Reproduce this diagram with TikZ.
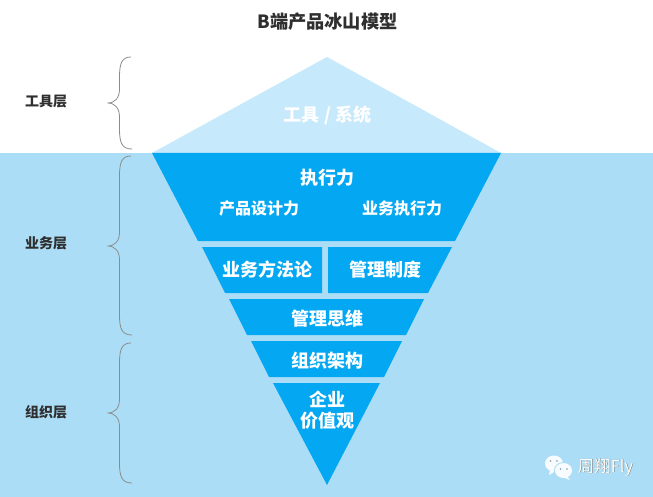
\documentclass[tikz,border=0pt]{standalone}
\usepackage{fontspec}
\setmainfont{Noto Sans CJK SC}
\usetikzlibrary{positioning}
\definecolor{waterblue}{HTML}{ABDEF6}
\definecolor{iceblue}{HTML}{C6E9FB}
\definecolor{deepblue}{HTML}{04A7F2}
\definecolor{labelgray}{HTML}{2F2F2F}
\tikzset{
    ice/.style={fill=deepblue,draw=none},
    icetext/.style={text=white,font=\bfseries\fontsize{18}{22}\selectfont,inner sep=0pt,align=center},
    subtext/.style={text=white,font=\bfseries\fontsize{16}{20}\selectfont,inner sep=0pt},
    layerlabel/.style={text=labelgray,font=\bfseries\fontsize{14}{16}\selectfont,inner sep=0pt},
    bracket/.style={draw=gray!90,line width=0.8pt},
    bubble/.style={fill=white!92!waterblue,draw=none}
}

\begin{document}
\begin{tikzpicture}[x=1pt,y=-1pt]
\useasboundingbox (0,0) rectangle (653,497);
\fill[white] (0,0) rectangle (653,153);
\fill[waterblue] (0,153) rectangle (653,497);

\node[text=labelgray,font=\bfseries\fontsize{18.2}{20}\selectfont,inner sep=0pt] (title) at (327.5,22) {B端产品冰山模型};

% iceberg
\fill[iceblue] (327,57) -- (501,153) -- (152,153) -- cycle;
\fill[ice] (152,153) -- (501,153) -- (455,241) -- (198,241) -- cycle;
\fill[ice] (202,247) -- (322,247) -- (322,293) -- (225,293) -- cycle;
\fill[ice] (328,247) -- (452,247) -- (428,293) -- (328,293) -- cycle;
\fill[ice] (229,299) -- (424,299) -- (406,335) -- (247,335) -- cycle;
\fill[ice] (251,341) -- (402,341) -- (384,377) -- (269,377) -- cycle;
\fill[ice] (273,383) -- (380,383) -- (327,485) -- cycle;

\node[icetext] (tool) at (327.5,115.5) {工具 / 系统};
\node[icetext] (exec) at (327,178) {执行力};
\node[subtext] (design) at (259,208.5) {产品设计力};
\node[subtext] (busexec) at (402,208.5) {业务执行力};
\node[icetext] (method) at (267,269.5) {业务方法论};
\node[icetext] (system) at (385,269.5) {管理制度};
\node[icetext] (thinking) at (327.5,319) {管理思维};
\node[icetext] (org) at (327,360.5) {组织架构};
\node[icetext] (values) at (327,410) {企业\\[-1pt]价值观};

% layers
\node[layerlabel] (toollayer) at (46,102) {工具层};
\node[layerlabel] (buslayer) at (46,243) {业务层};
\node[layerlabel] (orglayer) at (46,412) {组织层};

\foreach \top/\mid/\bot in {57/103/149,156/246/335,343/413/483}{
    \draw[bracket] (131,\top) .. controls (122,\top) and (119.5,\top+6) .. (119.5,\top+20)
        -- (119.5,\mid-14) .. controls (119.5,\mid-5) and (115,\mid) .. (107.5,\mid)
        .. controls (115,\mid) and (119.5,\mid+5) .. (119.5,\mid+14)
        -- (119.5,\bot-20) .. controls (119.5,\bot-6) and (122,\bot) .. (132,\bot);
}

% logo
\fill[bubble] (554,463.5) ellipse (9 and 8);
\fill[bubble] (550,470) -- (549,475) -- (556,471) -- cycle;
\fill[waterblue] (563.5,470.5) ellipse (9.5 and 8.5);
\fill[bubble] (563.5,470.5) ellipse (8.5 and 7.5);
\fill[bubble] (567,476) -- (570,480) -- (562,477) -- cycle;
\foreach \ex/\ey in {550.5/461,557/461,560.5/469,567/469}{
    \fill[waterblue!70!black] (\ex,\ey) circle (0.9);
}
\node[text=gray!85!black,font=\fontsize{16.5}{18}\selectfont,inner sep=0pt] (brandshadow) at (606,467.7) {周翔Fly};
\node[text=white,font=\fontsize{16.5}{18}\selectfont,inner sep=0pt] (brand) at (605.5,467) {周翔Fly};
\end{tikzpicture}
\end{document}
